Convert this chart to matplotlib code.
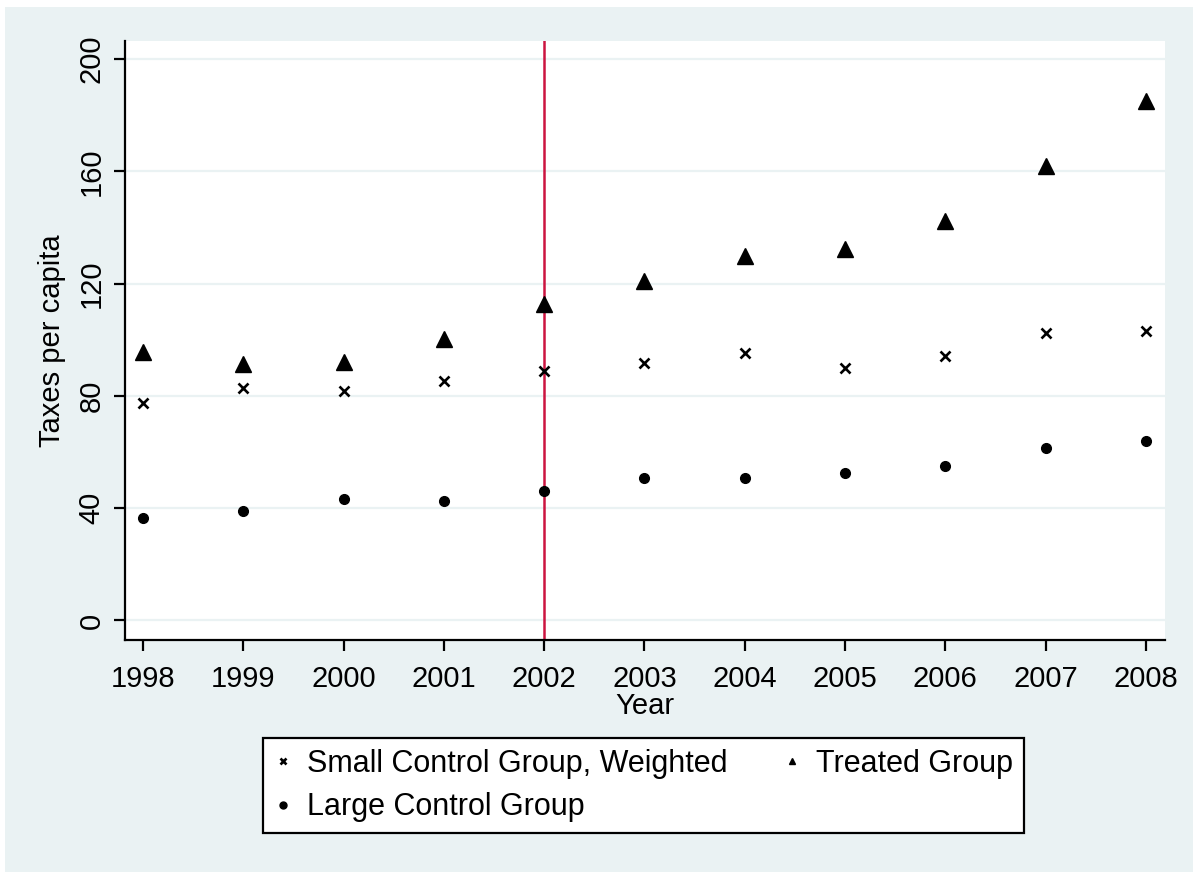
"""Taxes per capita by group, 1998-2008, with the 2002 reform marked."""
import matplotlib
matplotlib.use('Agg')
import matplotlib.pyplot as plt
from matplotlib.patches import Rectangle

plt.rcParams.update({
    'font.family': ['Liberation Sans', 'DejaVu Sans'],
    'font.size': 21,
})

years = [1998, 1999, 2000, 2001, 2002, 2003, 2004, 2005, 2006, 2007, 2008]
small_weighted = [77.4, 82.7, 81.9, 85.4, 89.0, 91.6, 95.2, 90.0, 94.3, 102.3, 103.2]
treated = [95.6, 91.2, 92.1, 100.2, 112.7, 120.9, 129.7, 132.3, 142.2, 161.8, 185.0]
large_control = [36.4, 39.1, 43.4, 42.6, 46.1, 50.7, 50.7, 52.4, 55.1, 61.3, 64.0]
y_ticks = [0, 40, 80, 120, 160, 200]
reform_year = 2002

BG = '#EAF2F3'
W, H = 1193, 872

fig = plt.figure(figsize=(W / 100, H / 100), dpi=100)
fig.patch.set_facecolor('white')
# graph region (Stata s2color look), kept behind the axes
fig.patches.append(Rectangle((5 / W, 0), 1 - 5 / W, 1 - 7 / H, transform=fig.transFigure,
                             facecolor=BG, edgecolor='none', zorder=-10))

ax = fig.add_axes([125 / W, 1 - 640 / H, (1165 - 125) / W, (640 - 41) / H])
ax.set_facecolor('white')

ax.set_xlim(1997.82, 2008.19)
ax.set_ylim(-6.95, 206.4)
ax.set_yticks(y_ticks)
ax.set_xticks(years)
ax.grid(axis='y', color=BG, lw=1.6)
ax.set_axisbelow(True)

for s in ['top', 'right']:
    ax.spines[s].set_visible(False)
for s in ['left', 'bottom']:
    ax.spines[s].set_linewidth(1.6)
ax.tick_params(length=8, width=1.6, pad=6)
ax.tick_params(axis='x', pad=10)
ax.tick_params(axis='y', labelrotation=90)
for lab in ax.get_yticklabels():
    lab.set_va('center')

ax.axvline(reform_year, color='#CC1440', lw=1.8, zorder=1)

ax.plot(years, small_weighted, 'x', color='black', ms=7.5, mew=1.9,
        label='Small Control Group, Weighted', zorder=3)
ax.plot(years, large_control, 'o', color='black', ms=7,
        label='Large Control Group', zorder=3)
ax.plot(years, treated, '^', color='black', ms=11,
        label='Treated Group', zorder=3)

ax.set_xlabel('Year', labelpad=-1)
ax.set_ylabel('Taxes per capita', labelpad=8)

leg = fig.legend(loc='upper left', bbox_to_anchor=(263 / W, 1 - 738 / H), ncol=2,
                 frameon=True, fancybox=False, edgecolor='black', framealpha=1,
                 fontsize=22, handlelength=0.6, handletextpad=0.5,
                 columnspacing=1.8, labelspacing=0.45, borderpad=0.35,
                 borderaxespad=0)
leg.get_frame().set_linewidth(1.6)
for h in leg.legend_handles:
    h.set_markersize(5)

fig.savefig('out.png', dpi=100, facecolor=fig.get_facecolor())
